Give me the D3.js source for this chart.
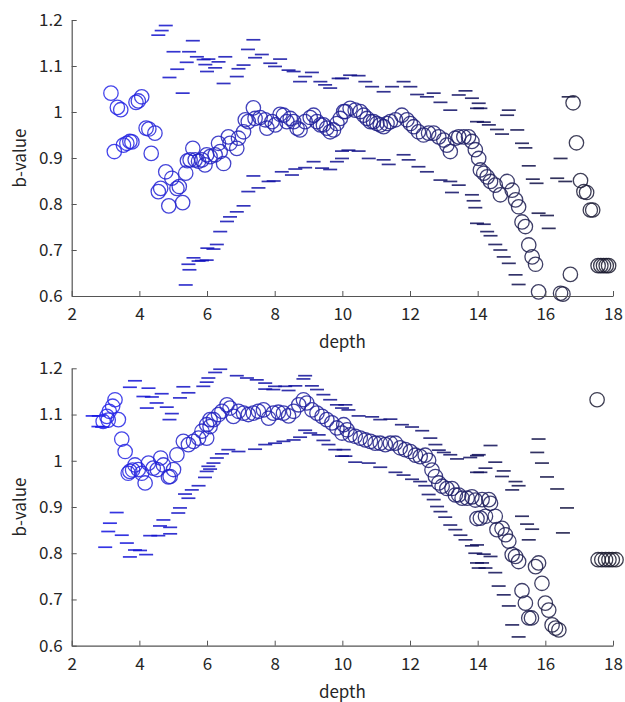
<!DOCTYPE html>
<meta charset="utf-8">
<script src="https://d3js.org/d3.v7.min.js"></script>
<style>
  body { margin: 0; background: #fff; }
  .tick text { font-family: "Noto Sans CJK JP", "DejaVu Sans", sans-serif; font-size: 17px; fill: #262626; }
  .lbl { font-family: "Noto Sans CJK JP", "DejaVu Sans", sans-serif; font-size: 17px; fill: #262626; }
</style>
<div id="chart"></div>
<script>
// [depth, b-value]
var topCircles = [[3.16,1.041],[3.26,0.914],[3.35,1.010],[3.45,1.005],[3.53,0.928],[3.63,0.932],[3.72,0.936],[3.78,0.935],[3.90,1.021],[3.97,1.024],[4.07,1.033],[4.20,0.965],[4.28,0.963],[4.35,0.910],[4.46,0.954],
  [4.56,0.827],[4.63,0.834],[4.78,0.870],[4.87,0.796],[4.96,0.856],[5.11,0.834],[5.18,0.838],[5.28,0.803],[5.37,0.867],[5.42,0.894],[5.50,0.896],[5.58,0.921],[5.65,0.896],[5.75,0.893],[5.85,0.896],[5.94,0.885],[5.99,0.907],
  [6.09,0.903],[6.24,0.907],[6.34,0.932],[6.39,0.914],[6.49,0.888],[6.63,0.946],[6.68,0.932],[6.88,0.921],[6.93,0.943],[7.08,0.957],[7.13,0.983],[7.22,0.979],[7.37,1.009],[7.42,0.986],[7.57,0.988],[7.72,0.983],[7.77,0.965],[7.92,0.979],[8.02,0.972],[8.16,0.995],[8.26,0.993],[8.36,0.979],[8.46,0.986],[8.56,0.979],[8.66,0.965],[8.75,0.961],[8.90,0.979],[9.05,0.988],[9.15,0.993],[9.25,0.979],[9.35,0.972],[9.44,0.972],[9.54,0.965],[9.64,0.957],[9.74,0.961],[9.84,0.975],[9.94,0.986],[10.04,1.001],
  [10.09,1.001],[10.23,1.008],[10.38,1.004],[10.53,1.001],[10.63,0.993],[10.73,0.986],[10.83,0.979],[10.92,0.979],[11.02,0.975],[11.12,0.972],[11.22,0.968],[11.32,0.975],[11.42,0.979],[11.57,0.983],[11.76,0.993],[11.91,0.983],[12.01,0.975],[12.11,0.968],[12.25,0.957],[12.40,0.950],[12.55,0.954],[12.70,0.954],[12.85,0.946],[13.00,0.939],[13.09,0.928],[13.19,0.914],[13.34,0.943],[13.44,0.946],[13.59,0.946],[13.73,0.946],[13.83,0.936],[13.93,0.918],
  [14.03,0.899],[14.08,0.874],[14.18,0.867],[14.28,0.859],[14.38,0.849],[14.52,0.841],[14.67,0.820],[14.87,0.849],[15.02,0.830],[15.12,0.809],[15.21,0.794],[15.31,0.761],[15.41,0.751],[15.51,0.711],[15.61,0.685],[15.71,0.669],[15.80,0.609],[16.45,0.606],[16.52,0.604],[16.74,0.647],[16.82,1.020],[16.92,0.933],[17.04,0.851],[17.14,0.827],[17.22,0.825],[17.33,0.787],[17.40,0.787],[17.56,0.666],[17.64,0.666],[17.72,0.666],[17.80,0.666],[17.87,0.666]];

var topUpper = [[4.56,1.167],[4.66,1.177],[4.78,1.188],[4.89,1.075],[5.01,1.131],[5.12,1.093],[5.28,1.041],[5.40,1.108],[5.47,1.131],[5.58,1.155],[5.70,1.120],[5.90,1.114],[5.95,1.103],[6.00,1.088],[6.04,1.115],[6.24,1.096],[6.34,1.109],[6.49,1.062],[6.54,1.120],[6.88,1.077],[6.93,1.094],[7.08,1.102],[7.21,1.136],[7.37,1.157],[7.42,1.118],[7.62,1.125],[7.87,1.106],[8.01,1.099],[8.16,1.115],[8.41,1.091],[8.56,1.088],[8.75,1.066],[8.90,1.077],[9.10,1.086],[9.35,1.066],[9.49,1.059],[9.64,1.052],[9.89,1.073],[9.99,1.073],[10.23,1.080],[10.48,1.079],[10.68,1.066],[10.88,1.055],[11.22,1.044],[11.47,1.055],[11.81,1.066],[12.01,1.055],[12.21,1.038],[12.50,1.033],[12.70,1.041],[12.90,1.021],[13.19,1.004],[13.44,1.037],[13.64,1.046],[13.83,1.030],[13.98,1.008],[14.03,1.019],[14.08,1.008],[13.98,0.979],[14.18,0.978],[14.33,0.972],[14.57,0.962],[14.72,0.952],[14.87,0.993],[14.92,1.004],[15.17,0.961],[15.31,0.932],[15.41,0.922],[15.51,0.883],[15.63,0.854],[15.74,0.845],[15.80,0.780],[16.05,0.775],[16.10,0.747],[16.35,0.856],[16.45,0.899],[16.59,0.849],[16.69,1.033]];

var topLower = [[5.37,0.624],[5.45,0.669],[5.48,0.657],[5.60,0.683],[5.75,0.676],[5.85,0.677],[5.99,0.678],[6.01,0.704],[6.19,0.702],[6.29,0.712],[6.39,0.740],[6.59,0.762],[6.68,0.772],[6.88,0.783],[7.08,0.796],[7.22,0.827],[7.37,0.861],[7.52,0.835],[7.82,0.849],[7.97,0.850],[8.21,0.870],[8.51,0.863],[8.61,0.876],[8.90,0.879],[9.15,0.892],[9.40,0.878],[9.64,0.875],[9.84,0.892],[9.99,0.915],[9.99,0.899],[10.18,0.917],[10.48,0.915],[10.78,0.899],[11.22,0.896],[11.37,0.886],[11.81,0.907],[11.96,0.896],[12.25,0.881],[12.50,0.870],[12.90,0.852],[13.19,0.849],[13.24,0.825],[13.44,0.841],[13.83,0.820],[13.88,0.807],[13.93,0.792],[13.98,0.758],[14.18,0.756],[14.28,0.740],[14.38,0.731],[14.52,0.712],[14.67,0.700],[14.77,0.685],[14.92,0.671],[15.12,0.646],[15.21,0.625]];

var bottomCircles = [[2.93,1.085],[3.04,1.096],[3.08,1.088],[3.11,1.107],[3.21,1.118],[3.28,1.132],[3.38,1.089],[3.48,1.047],[3.58,1.020],[3.67,0.973],[3.72,0.977],[3.80,0.980],[3.87,0.991],[3.97,0.981],[4.07,0.973],[4.17,0.952],[4.27,0.995],[4.41,0.984],[4.53,0.981],[4.63,1.006],[4.71,0.991],[4.86,0.965],[4.91,0.966],[5.01,0.981],[5.11,1.013],[5.30,1.042],[5.45,1.035],[5.60,1.042],[5.75,1.049],[5.85,1.064],[5.99,1.078],[5.99,1.049],[6.09,1.074],[6.09,1.089],
  [6.19,1.089],[6.34,1.100],[6.44,1.107],[6.59,1.121],[6.68,1.114],[6.78,1.096],[6.93,1.107],[7.08,1.103],[7.22,1.100],[7.37,1.103],[7.52,1.107],[7.67,1.110],[7.82,1.092],[7.96,1.103],[8.11,1.105],[8.26,1.103],[8.41,1.097],[8.56,1.107],[8.71,1.121],[8.85,1.132],[8.95,1.125],[9.10,1.110],[9.25,1.103],[9.40,1.096],[9.54,1.089],[9.69,1.082],[9.84,1.071],[9.99,1.060],
  [10.04,1.078],[10.14,1.067],[10.23,1.056],[10.38,1.053],[10.53,1.049],[10.68,1.045],[10.83,1.042],[10.97,1.038],[11.12,1.038],[11.27,1.035],[11.42,1.038],[11.57,1.038],[11.71,1.028],[11.86,1.024],[12.01,1.020],[12.16,1.012],[12.30,1.009],[12.45,1.012],[12.55,1.001],[12.65,0.980],[12.75,0.966],[12.85,0.952],[12.95,0.945],[13.09,0.940],[13.24,0.940],[13.34,0.926],[13.44,0.926],[13.54,0.919],[13.69,0.919],[13.83,0.922],[13.93,0.915],[13.98,0.875],
  [14.13,0.916],[14.33,0.916],[14.38,0.908],[14.08,0.876],[14.23,0.880],[14.52,0.880],[14.57,0.851],[14.72,0.854],[14.82,0.840],[14.92,0.826],[15.02,0.797],[15.12,0.793],[15.21,0.782],[15.31,0.719],[15.41,0.692],[15.51,0.660],[15.59,0.660],[15.71,0.771],[15.80,0.779],[15.90,0.735],[16.00,0.692],[16.10,0.677],[16.20,0.645],[16.30,0.638],[16.40,0.634],[17.53,1.132],[17.56,0.786],[17.67,0.786],[17.78,0.786],[17.88,0.786],[17.98,0.786],[18.09,0.786]];

var bottomUpper = [[2.62,1.097],[2.80,1.097],[2.79,1.074],[2.90,1.073],[3.72,1.159],[3.87,1.173],[4.12,1.139],[4.22,1.114],[4.27,1.157],[4.37,1.138],[4.51,1.125],[4.66,1.145],[4.81,1.116],[4.89,1.089],[4.96,1.102],[5.20,1.136],[5.30,1.160],[5.45,1.147],[5.89,1.161],[5.99,1.170],[6.04,1.179],[6.24,1.191],[6.39,1.198],[6.88,1.184],[7.18,1.179],[7.47,1.175],[7.72,1.168],[7.72,1.155],[7.96,1.154],[8.01,1.161],[8.31,1.161],[8.41,1.152],[8.61,1.162],[8.85,1.177],[8.90,1.184],[9.10,1.162],[9.25,1.154],[9.44,1.143],[9.64,1.132],[9.84,1.121],[9.99,1.114],[10.09,1.121],[10.18,1.110],[10.48,1.097],[10.88,1.095],[11.12,1.089],[11.42,1.090],[11.76,1.078],[12.06,1.073],[12.36,1.065],[12.60,1.049],[12.75,1.035],[12.85,1.023],[13.00,1.018],[13.19,1.013],[13.39,1.004],[13.78,1.007],[13.98,1.011],[13.98,0.975],[14.03,1.013],[14.38,1.033],[14.52,0.997],[14.23,0.984],[14.08,0.975],[14.77,0.978],[14.72,0.966],[15.12,0.955],[15.21,0.946],[15.02,0.937],[15.80,1.047],[15.76,1.018],[15.90,0.995],[16.05,0.965],[16.35,0.939],[16.64,0.898],[16.52,0.844],[15.31,0.880],[15.46,0.863],[15.61,0.852],[15.51,0.829]];

var bottomLower = [[2.99,0.813],[3.08,0.847],[3.13,0.865],[3.33,0.888],[3.48,0.839],[3.63,0.822],[3.72,0.792],[3.87,0.807],[4.02,0.806],[4.20,0.797],[4.32,0.838],[4.56,0.838],[4.61,0.859],[4.71,0.872],[4.91,0.856],[4.91,0.842],[5.15,0.887],[5.20,0.898],[5.35,0.928],[5.45,0.919],[5.55,0.937],[5.75,0.946],[5.94,0.964],[5.99,0.977],[6.04,0.988],[6.09,0.982],[6.19,0.995],[6.29,1.006],[6.44,1.015],[6.63,1.024],[6.93,1.020],[7.42,1.025],[7.72,1.035],[8.01,1.038],[8.26,1.042],[8.56,1.045],[8.75,1.051],[8.90,1.066],[9.05,1.060],[9.30,1.056],[9.44,1.044],[9.59,1.035],[9.79,1.024],[9.99,1.010],[10.04,1.024],[10.09,1.010],[10.38,0.997],[10.78,0.995],[11.12,0.986],[11.57,0.975],[11.81,0.969],[12.06,0.960],[12.30,0.955],[12.45,0.946],[12.55,0.927],[12.70,0.916],[12.80,0.901],[12.90,0.890],[13.04,0.878],[13.19,0.861],[13.34,0.851],[13.49,0.839],[13.64,0.829],[13.83,0.816],[13.93,0.800],[13.98,0.818],[13.98,0.779],[14.03,0.768],[14.18,0.798],[14.38,0.793],[14.13,0.779],[14.23,0.768],[14.52,0.758],[14.62,0.729],[14.77,0.710],[14.92,0.686],[15.02,0.645],[15.21,0.619]];

var xTicks = [2, 4, 6, 8, 10, 12, 14, 16, 18];
var yTicks = [0.6, 0.7, 0.8, 0.9, 1.0, 1.1, 1.2];

var W = 625, H = 702;
var svg = d3.select("#chart").append("svg").attr("width", W).attr("height", H);

var x = d3.scaleLinear().domain([2, 18]).range([71.7, 613]);
var circleColor = d3.scaleLinear().domain([3, 18]).range(["#2424ea", "#1c1c2e"]);
var dashColor = d3.scaleLinear().domain([3, 17]).range(["#1010e0", "#0e0e38"]);

function drawPanel(circles, upper, lower, top, bottom) {
  var y = d3.scaleLinear().domain([0.6, 1.2]).range([bottom, top]);
  var g = svg.append("g");

  // dashes (upper and lower bounds)
  var dashes = upper.concat(lower);
  g.append("g").selectAll("line")
    .data(dashes)
    .enter().append("line")
      .attr("x1", function(d) { return x(d[0]) - 7; })
      .attr("x2", function(d) { return x(d[0]) + 7; })
      .attr("y1", function(d) { return y(d[1]); })
      .attr("y2", function(d) { return y(d[1]); })
      .style("stroke", function(d) { return dashColor(d[0]); })
      .style("stroke-width", 1.7)
      .style("stroke-opacity", 0.85);

  g.append("g").selectAll("circle")
    .data(circles)
    .enter().append("circle")
      .attr("cx", function(d) { return x(d[0]); })
      .attr("cy", function(d) { return y(d[1]); })
      .attr("r", 7.2)
      .style("fill", "none")
      .style("stroke", function(d) { return circleColor(d[0]); })
      .style("stroke-width", 1.3)
      .style("stroke-opacity", 0.85);

  // axes, ticks inside like MATLAB
  var ax = g.append("g")
    .attr("transform", "translate(0," + bottom + ")")
    .call(d3.axisBottom(x).tickValues(xTicks).tickSizeInner(-5).tickSizeOuter(0).tickPadding(12));
  var ay = g.append("g")
    .attr("transform", "translate(" + x.range()[0] + ",0)")
    .call(d3.axisLeft(y).tickValues(yTicks).tickSizeInner(-5).tickSizeOuter(0).tickPadding(9)
      .tickFormat(function(d) { return d === 1 ? "1" : d3.format(".1f")(d); }));
  [ax, ay].forEach(function(a) {
    a.select(".domain").style("stroke", "#555").style("stroke-width", 1.2);
    a.selectAll(".tick line").style("stroke", "#555");
  });

  g.append("text").attr("class", "lbl")
    .attr("text-anchor", "middle")
    .attr("x", (x.range()[0] + x.range()[1]) / 2)
    .attr("y", bottom + 52)
    .text("depth");
  g.append("text").attr("class", "lbl")
    .attr("text-anchor", "middle")
    .attr("transform", "translate(26," + ((top + bottom) / 2) + ") rotate(-90)")
    .text("b-value");
}

drawPanel(topCircles, topUpper, topLower, 20, 296);
drawPanel(bottomCircles, bottomUpper, bottomLower, 368.3, 645.7);
</script>
